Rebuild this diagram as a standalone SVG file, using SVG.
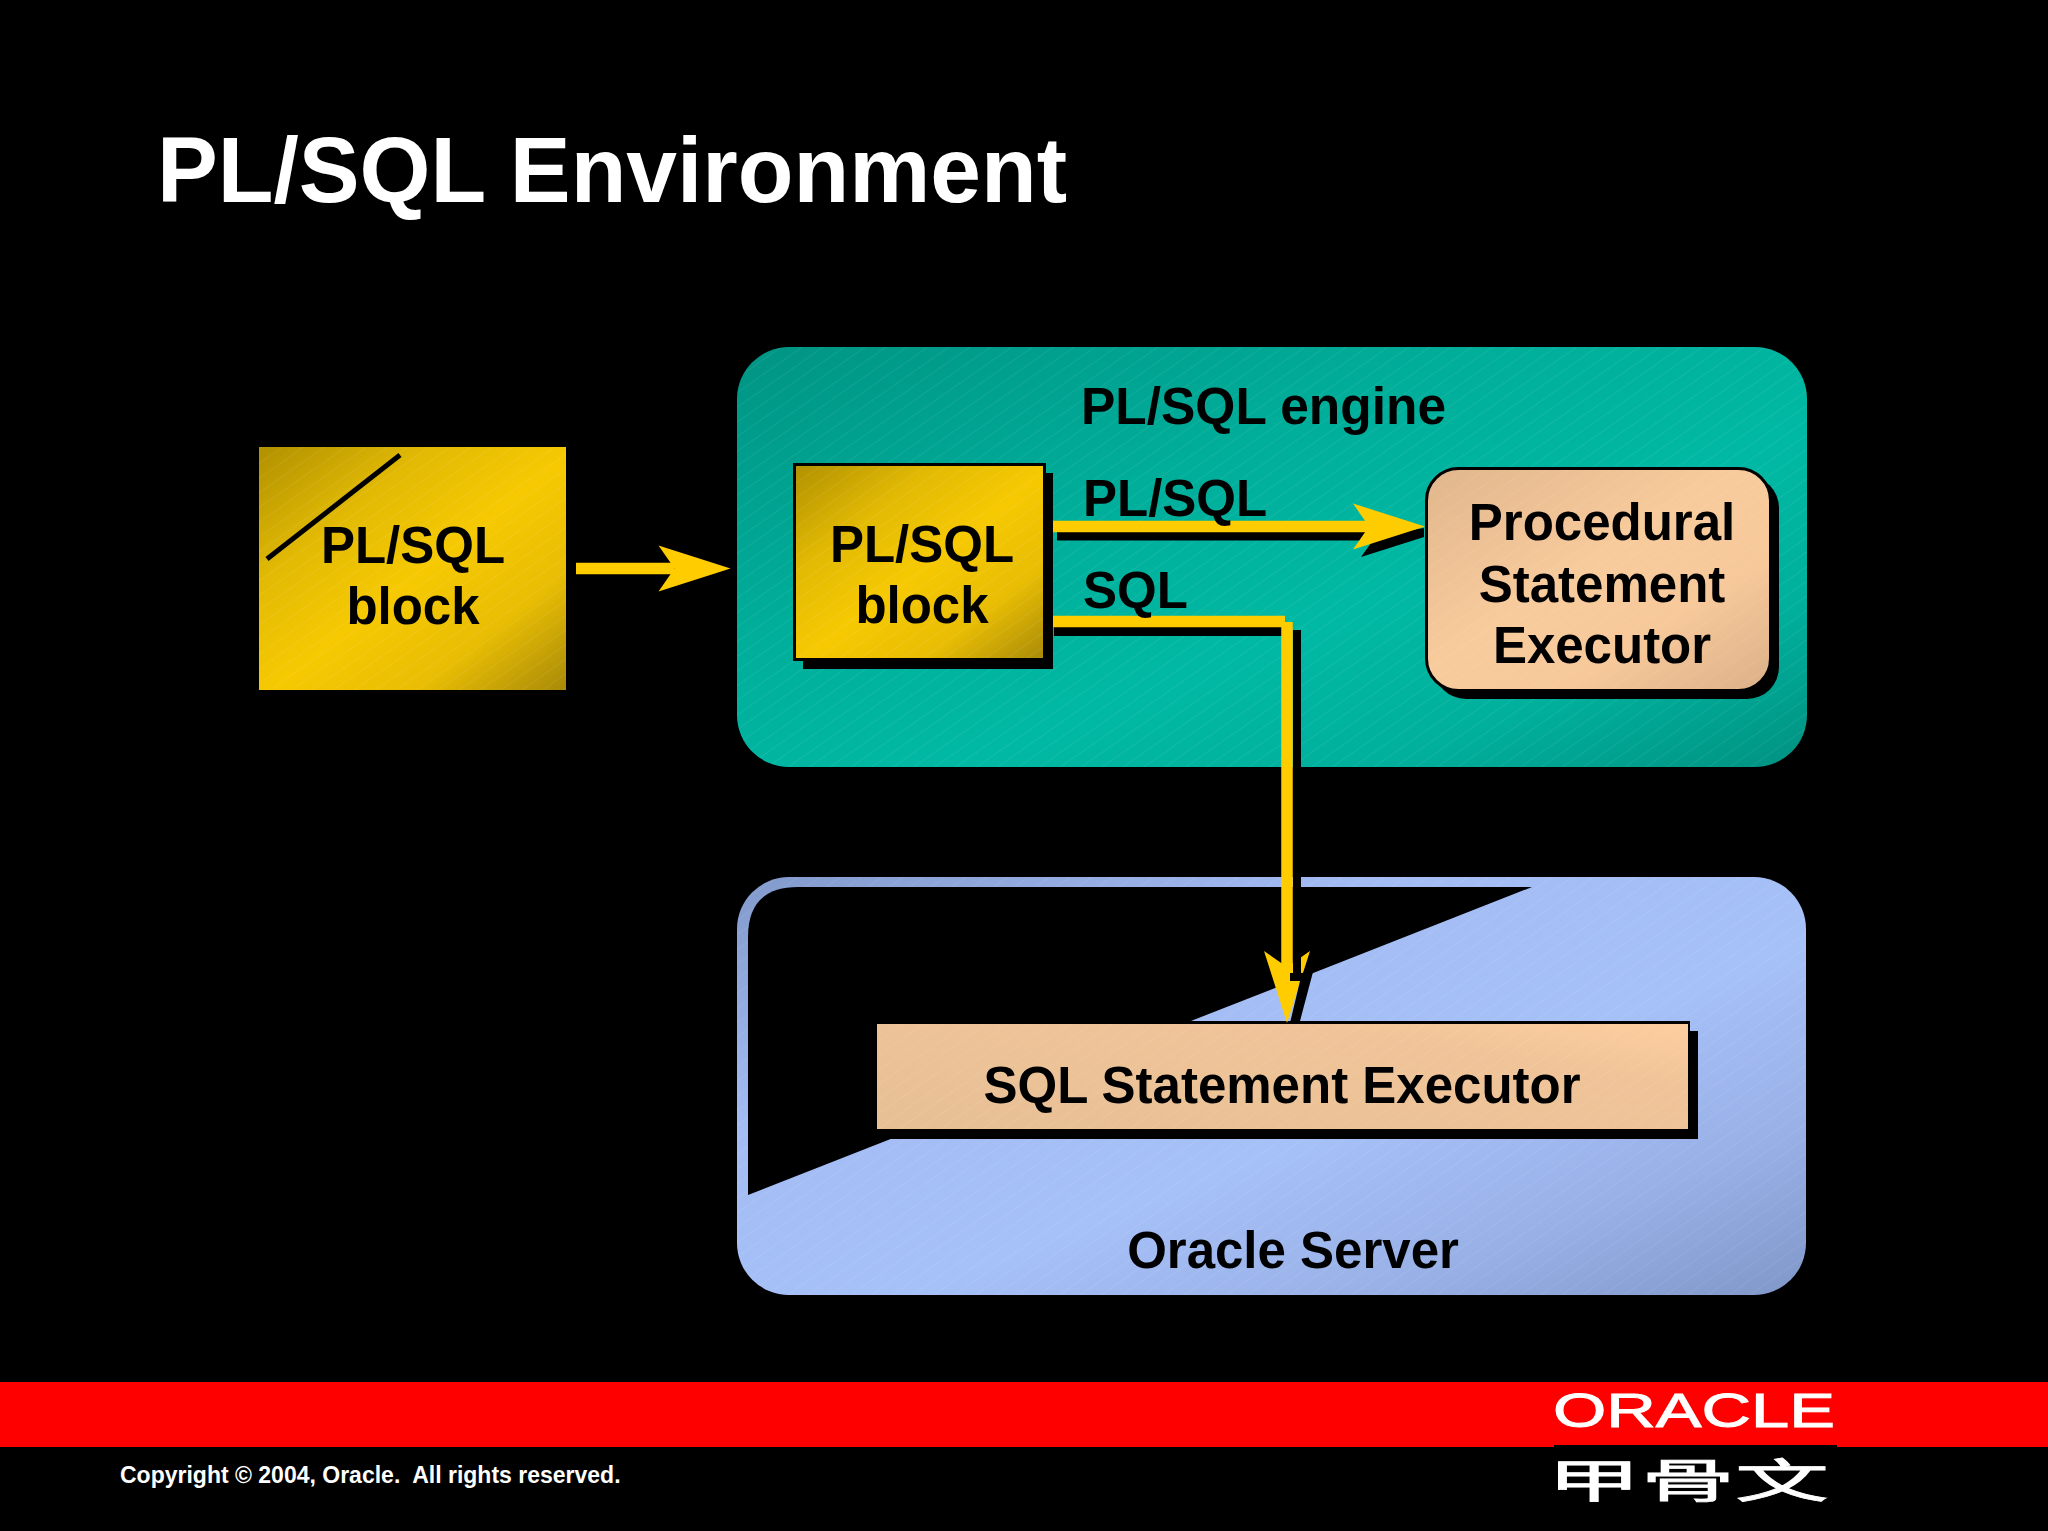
<svg xmlns="http://www.w3.org/2000/svg" width="2048" height="1531" viewBox="0 0 2048 1531">
<style>
text{font-family:"Liberation Sans",Arial,sans-serif;font-weight:bold;fill:#000}
.l{font-size:51px}
.m{text-anchor:middle}
.title{font-size:92px;fill:#fff}
.yl{fill:none;stroke:#ffcc00;stroke-width:11.5}
.sh{fill:none;stroke:#000;stroke-width:9}
</style>
<defs>
<linearGradient id="gold" x1="0" y1="0" x2="1" y2="1">
<stop offset="0" stop-color="#b09000"/><stop offset=".28" stop-color="#e2ba04"/><stop offset=".52" stop-color="#f6c902"/><stop offset=".76" stop-color="#e8bd04"/><stop offset="1" stop-color="#a88a08"/>
</linearGradient>
<linearGradient id="teal" x1="0" y1="0" x2="1" y2="1">
<stop offset="0" stop-color="#009484"/><stop offset=".35" stop-color="#00ae9a"/><stop offset=".6" stop-color="#00b9a4"/><stop offset=".8" stop-color="#00b09c"/><stop offset="1" stop-color="#009282"/>
</linearGradient>
<linearGradient id="blue" x1="0" y1="0" x2="1" y2="1">
<stop offset="0" stop-color="#8299cb"/><stop offset=".3" stop-color="#a3bcf4"/><stop offset=".58" stop-color="#a6c1f8"/><stop offset=".8" stop-color="#98b0e6"/><stop offset="1" stop-color="#8097c9"/>
</linearGradient>
<linearGradient id="peach" x1="0" y1="0" x2="1" y2="1">
<stop offset="0" stop-color="#e0b68c"/><stop offset=".45" stop-color="#f8cb9c"/><stop offset=".7" stop-color="#f6c89a"/><stop offset="1" stop-color="#dcb088"/>
</linearGradient>
<linearGradient id="peach2" x1="0" y1="0.9" x2="1" y2="0.1">
<stop offset="0" stop-color="#e8c096"/><stop offset=".75" stop-color="#f0c498"/><stop offset="1" stop-color="#fbcc9e"/>
</linearGradient>
<pattern id="hatch" patternUnits="userSpaceOnUse" width="12" height="12" patternTransform="rotate(-35)">
<rect y="0" width="12" height="1" fill="#fff" opacity=".07"/>
</pattern>
<marker id="head" markerUnits="userSpaceOnUse" viewBox="0 0 72 46" markerWidth="72" markerHeight="46" refX="16" refY="23" orient="auto" overflow="visible">
<polygon points="0,0 72,23 0,46 16,23" fill="#ffcc00"/>
</marker>
</defs>
<rect width="2048" height="1531" fill="#000"/>
<text class="title" x="157" y="202" textLength="910" lengthAdjust="spacingAndGlyphs">PL/SQL Environment</text>

<g id="engine">
<rect x="737" y="347" width="1070" height="420" rx="52" fill="url(#teal)"/>
<rect x="737" y="347" width="1070" height="420" rx="52" fill="url(#hatch)"/>
<text class="l" x="1081" y="424" textLength="365" lengthAdjust="spacingAndGlyphs">PL/SQL engine</text>
</g>

<g id="server">
<rect x="737" y="877" width="1069" height="418" rx="52" fill="url(#blue)"/>
<rect x="737" y="877" width="1069" height="418" rx="52" fill="url(#hatch)"/>
<path d="M748 1195V937Q748 887 798 887H1532Z" fill="#000"/>
<text class="l m" x="1293" y="1268">Oracle Server</text>
</g>

<g id="source-block">
<rect x="259" y="447" width="307" height="243" fill="url(#gold)"/>
<rect x="259" y="447" width="307" height="243" fill="url(#hatch)"/>
<path d="M400 455L267 559" fill="none" stroke="#000" stroke-width="5"/>
<text class="l m" x="413" y="563">PL/SQL</text>
<text class="l m" x="413" y="624">block</text>
</g>

<g id="engine-block">
<rect x="803" y="473" width="250" height="196" fill="#000"/>
<rect x="794.500" y="464.500" width="250" height="195" fill="url(#gold)" stroke="#000" stroke-width="3"/>
<rect x="796" y="466" width="247" height="192" fill="url(#hatch)"/>
<text class="l m" x="922" y="562">PL/SQL</text>
<text class="l m" x="922" y="623">block</text>
</g>

<g id="procedural-executor">
<rect x="1434" y="476" width="345" height="223" rx="32" fill="#000"/>
<rect x="1426.500" y="468.500" width="344" height="222" rx="32" fill="url(#peach)" stroke="#000" stroke-width="3"/>
<rect x="1428" y="470" width="341" height="219" rx="31" fill="url(#hatch)"/>
<text class="l m" x="1602" y="540">Procedural</text>
<text class="l m" x="1602" y="602">Statement</text>
<text class="l m" x="1602" y="663">Executor</text>
</g>

<g id="sql-executor">
<rect x="888" y="1031" width="810" height="108" fill="#000"/>
<rect x="875" y="1021" width="815" height="110" fill="#000"/>
<rect x="877" y="1024" width="811" height="105" fill="url(#peach2)"/>
<rect x="877" y="1024" width="811" height="105" fill="url(#hatch)"/>
<text class="l m" x="1282" y="1103">SQL Statement Executor</text>
</g>

<g id="connectors">
<path class="sh" d="M1057 536H1372"/>
<polygon points="1361,557 1376,536 1424,528 1424,537" fill="#000"/>
<path class="sh" d="M1054 631.500H1290"/>
<path class="yl" d="M576 568.500H674.500" marker-end="url(#head)"/>
<path class="yl" d="M1053 526.500H1369" marker-end="url(#head)"/>
<path class="yl" d="M1053 621.500H1285M1287 622V967" marker-end="url(#head)"/>
<polygon points="1293,630 1301,630 1301,973 1313,972 1300,1021 1290.500,1021 1300,981 1290,981 1290,973 1293,973" fill="#000"/>
<text class="l" x="1083" y="516">PL/SQL</text>
<text class="l" x="1083" y="608">SQL</text>
</g>

<g id="footer">
<rect y="1382" width="2048" height="65" fill="#f00"/>
<rect x="1554" y="1445" width="283" height="2" fill="#000"/>
<text x="1553" y="1427" font-size="49" textLength="282" lengthAdjust="spacingAndGlyphs" stroke="#fff" stroke-width="1" style="font-weight:normal;fill:#fff">ORACLE</text>
<text x="1547" y="1497" font-size="46" textLength="282" lengthAdjust="spacingAndGlyphs" stroke="#fff" stroke-width=".8" style="font-family:'Noto Sans CJK SC',sans-serif;font-weight:normal;fill:#fff">甲骨文</text>
<text x="120" y="1483" font-size="23" xml:space="preserve" style="fill:#fff">Copyright © 2004, Oracle.  All rights reserved.</text>
</g>
</svg>
